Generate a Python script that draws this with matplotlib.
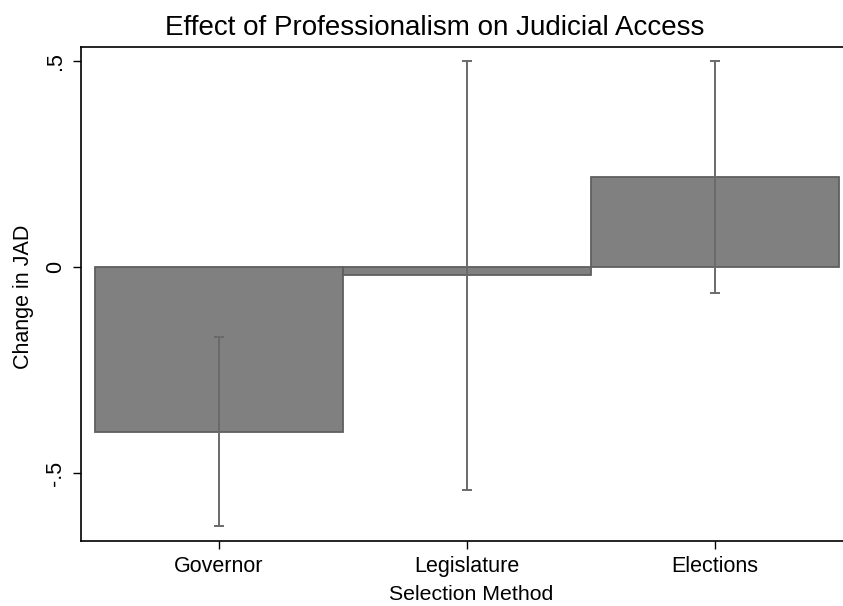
import matplotlib
matplotlib.use('Agg')
import matplotlib.pyplot as plt

plt.rcParams['font.family'] = ['Liberation Sans', 'DejaVu Sans']

# Data
methods = ['Governor', 'Legislature', 'Elections']
change = [-0.40, -0.02, 0.218]
ci_low = [-0.628, -0.541, -0.063]
ci_high = [-0.17, 0.50, 0.50]

fig = plt.figure(figsize=(8.43, 6.06), dpi=100)
ax = fig.add_axes([0.0961, 0.107, 1.0 - 0.0961, 0.9224 - 0.107])

x = range(len(methods))
ax.bar(x, change, width=1.0, color='#808080', edgecolor='#5f5f5f', linewidth=1.3, zorder=2)

# error bars as range lines with caps
lower = [c - lo for c, lo in zip(change, ci_low)]
upper = [hi - c for c, hi in zip(change, ci_high)]
ax.errorbar(x, change, yerr=[lower, upper], fmt='none', ecolor='#6a6a6a',
            elinewidth=1.4, capsize=3.6, capthick=1.4, zorder=3)

ax.set_xlim(-0.556, 2.516)
ax.set_ylim(-0.665, 0.534)

ax.set_xticks(list(x))
ax.set_xticklabels(methods, fontsize=15.5)
ax.set_yticks([-0.5, 0, 0.5])
ax.set_yticklabels(['-.5', '0', '.5'], fontsize=15.5, rotation=90, va='center')
ax.tick_params(axis='both', direction='out', length=6, width=1, color='black', pad=5)

for side in ['left', 'bottom', 'top']:
    ax.spines[side].set_linewidth(1.2)
ax.spines['right'].set_visible(False)

# axis titles and main title placed like the Stata graph
fig.text(471 / 843, 0.003, 'Selection Method', ha='center', va='bottom', fontsize=15.3)
fig.text(23 / 843, 1 - 297 / 606, 'Change in JAD', ha='center', va='center',
         rotation=90, fontsize=15.5)
fig.text(435 / 843, 1 - 35 / 606, 'Effect of Professionalism on Judicial Access',
         ha='center', va='baseline', fontsize=20)

fig.savefig('out.png', dpi=100)
